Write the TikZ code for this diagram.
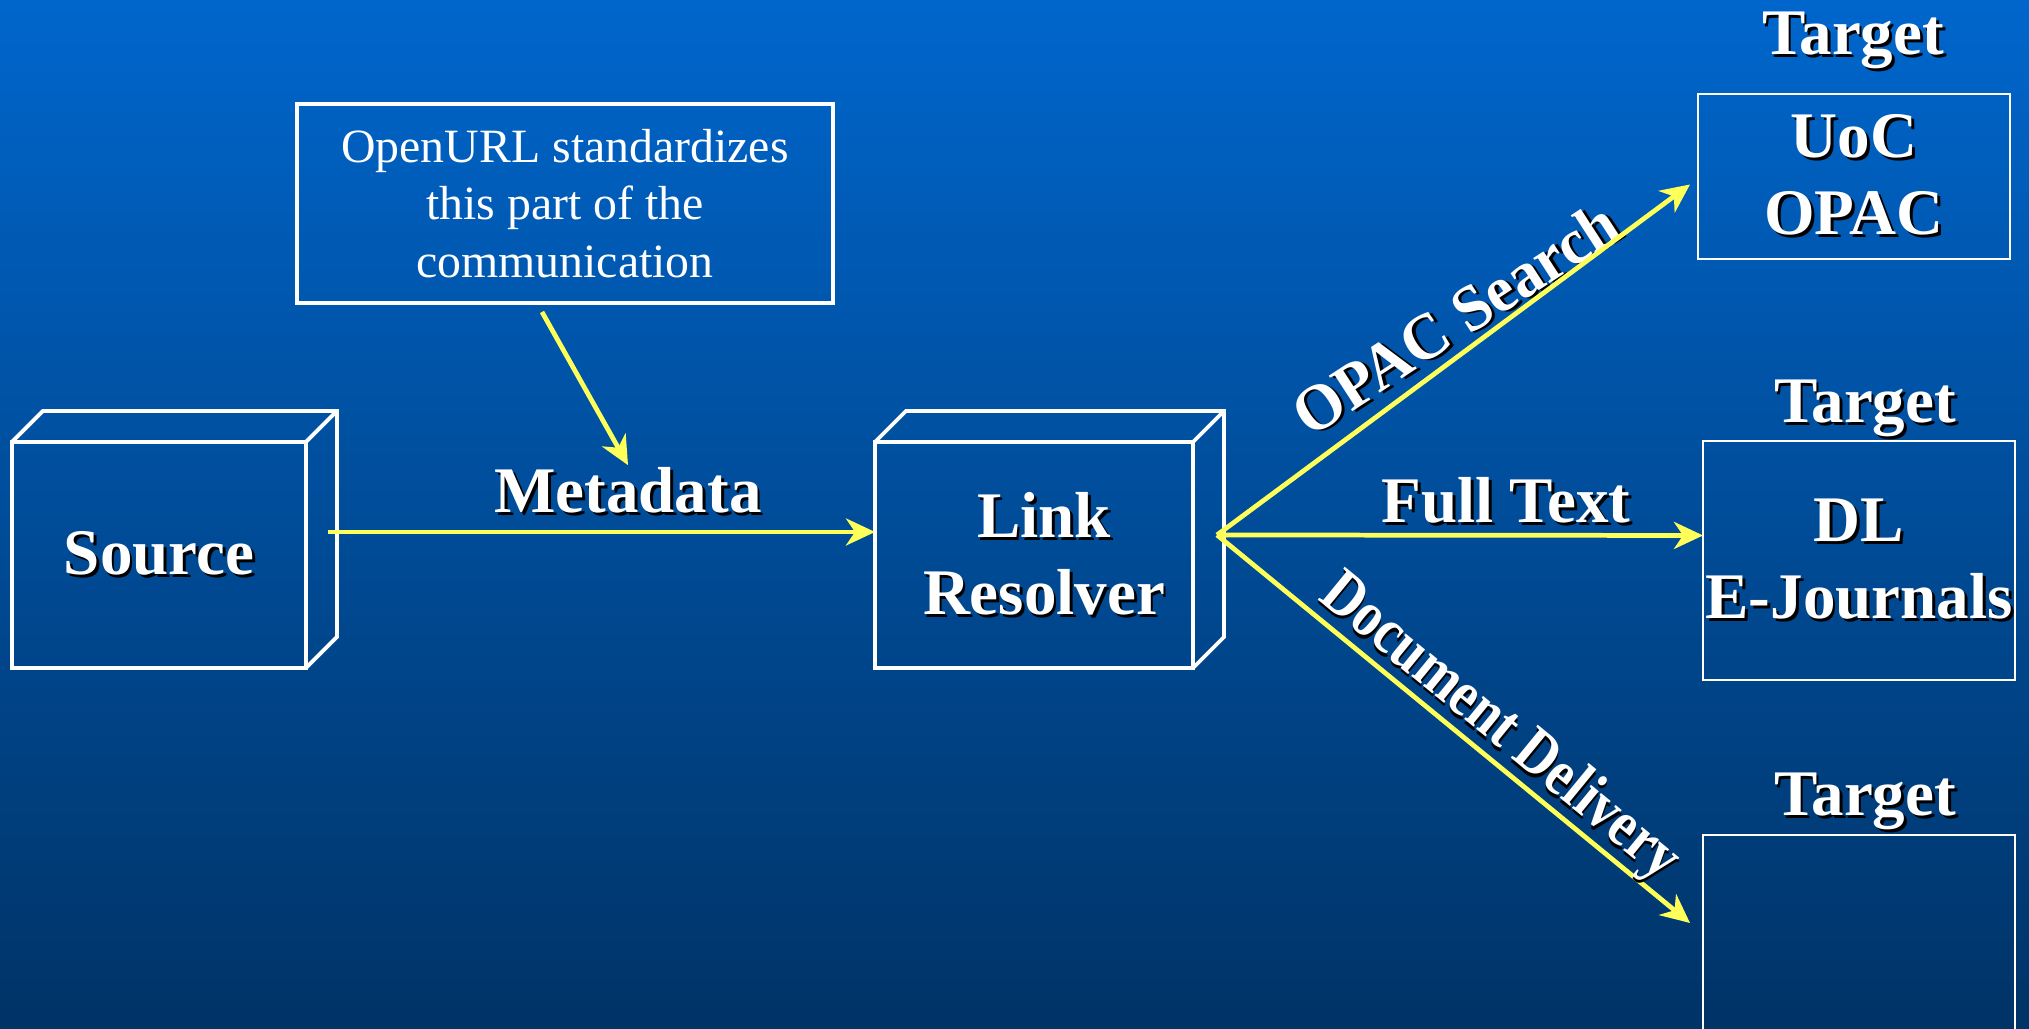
\documentclass[tikz,border=0pt]{standalone}
\usepackage{fontspec}
\setmainfont{Liberation Serif}
\usetikzlibrary{arrows.meta,positioning,calc}

\definecolor{bgtop}{RGB}{0,102,204}
\definecolor{bgbot}{RGB}{0,51,102}
\definecolor{linkyellow}{RGB}{255,255,90}

\newcommand{\bigfont}{\fontsize{18.5}{21.9}\selectfont\bfseries}
\newcommand{\notefont}{\fontsize{13.6}{16.3}\selectfont}
% white text with a small black drop shadow
\newcommand{\shd}[1]{\rlap{\color{black}\kern0.8pt\raisebox{-0.8pt}{#1}}#1}

\tikzset{
  cube/.style={draw=white, line width=1.1pt, outer sep=0pt, minimum height=2.26cm,
    text=white, font=\bigfont, align=center},
  notebox/.style={draw=white, line width=1.1pt, outer sep=0pt, minimum width=5.36cm,
    minimum height=1.99cm, text=white, font=\notefont, align=center},
  targetbox/.style={draw=white, line width=0.6pt, outer sep=0pt, inner sep=0.02cm,
    minimum width=3.12cm, text=white, font=\bigfont, align=center},
  lbl/.style={text=white, font=\bigfont, inner sep=0pt},
  flow/.style={draw=linkyellow, line width=1.35pt,
    -{Stealth[length=0.29cm, width=0.27cm, inset=0.09cm]}}
}

\begin{document}
\begin{tikzpicture}
        \useasboundingbox (0,0) rectangle (20.29,10.29);
        \clip (0,0) rectangle (20.29,10.29);
        \shade[top color=bgtop, bottom color=bgbot] (0,0) rectangle (20.29,10.29);

        % boxes
        \node[cube, minimum width=2.94cm] (src) at (1.59,4.74) {\shd{Source}};
        \node[cube, minimum width=3.18cm, right=5.69cm of src] (rsv) {\hspace*{0.2cm}\shd{Link}\\\hspace*{0.2cm}\shd{Resolver}};
        \foreach \n in {src,rsv} {
            \draw[white, line width=1.1pt] (\n.north west) -- ++(0.31,0.31) -| ($(\n.south east)+(0.31,0.31)$) -- (\n.south east);
            \draw[white, line width=1.1pt] (\n.north east) -- ++(0.31,0.31);
        }
        \node[notebox] (note) at (5.65,8.255) {OpenURL standardizes\\this part of the\\communication};

        \node[targetbox, minimum height=1.65cm] (t1) at (18.54,8.525) {\shd{UoC}\\\shd{OPAC}};
        \node[targetbox, minimum height=2.39cm] (t2) at (18.59,4.685) {\shd{DL}\\\shd{E-Journals}};
        \node[targetbox, minimum height=2.2cm] (t3) at (18.59,0.84) {};
        \node[lbl, anchor=base] (tl1) at (18.53,9.74) {\shd{Target}};
        \node[lbl, anchor=base] (tl2) at (18.65,6.06) {\shd{Target}};
        \node[lbl, anchor=base] (tl3) at (18.65,2.13) {\shd{Target}};

        % arrows
        \node[lbl, anchor=base] (meta) at (6.28,5.16) {\shd{Metadata}};
        \node[lbl, anchor=base] (full) at (15.06,5.06) {\shd{Full Text}};
        \node[lbl, anchor=base, rotate=33] (opac) at (14.67,6.92) {\scalebox{0.97}[1]{\shd{OPAC Search}}};
        \coordinate (hub) at ([xshift=0.24cm,yshift=0.2cm]rsv.east);
        \draw[flow] ([xshift=0.22cm,yshift=0.23cm]src.east) -- ([yshift=0.23cm]rsv.west);
        \draw[flow] ([xshift=-0.23cm,yshift=-0.09cm]note.south) -- ([yshift=0.02cm]meta.north);
        \draw[flow] (hub) -- ([xshift=-0.08cm,yshift=-0.08cm]t1.west);
        \draw[flow] (hub) -- ([yshift=0.25cm]t2.west);
        \draw[flow] (hub) -- ([xshift=-0.13cm,yshift=-0.88cm]t3.north west)
            node[lbl, pos=0.557, sloped, anchor=base, yshift=0.14cm] (deliv) {\scalebox{0.83}[1]{\shd{Document Delivery}}};
\end{tikzpicture}
\end{document}
